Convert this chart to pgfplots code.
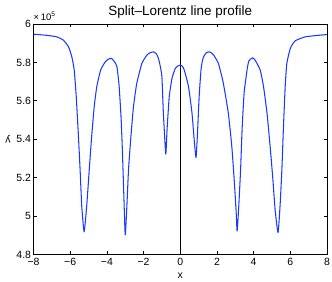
\documentclass[border=0pt]{standalone}
\usepackage{fontspec}
\setmainfont{Liberation Sans}
\usepackage{pgfplots}
\pgfplotsset{compat=1.18}
\definecolor{lineblue}{RGB}{25,55,255}
\begin{document}
\begin{tikzpicture}
\begin{axis}[
  scale only axis,
  width=293.5bp, height=230.5bp,
  at={(0,0)}, anchor=south west,
  xmin=-8, xmax=8, ymin=4.8, ymax=6,
  xtick={-8,-6,-4,-2,0,2,4,6,8},
  xticklabels={−8,−6,−4,−2,0,2,4,6,8},
  ytick={4.8,5,5.2,5.4,5.6,5.8,6},
  yticklabels={4.8,5,5.2,5.4,5.6,5.8,6},
  tick align=inside,
  major tick length=3.5bp,
  axis line style={line width=0.9pt},
  every tick/.style={black, line width=0.7pt},
  tick label style={font=\fontsize{10.5}{12}\selectfont},
  xticklabel style={yshift=0bp},
  yticklabel style={xshift=1bp},
  xlabel={x}, ylabel={y},
  label style={font=\fontsize{10.5}{12}\selectfont},
  xlabel style={at={(axis description cs:0.5,-0.0933)}, anchor=center},
  ylabel style={at={(axis description cs:-0.0869,0.5)}, anchor=center, rotate=90},
  every axis title shift=0pt,
  title={Split–Lorentz line profile},
  title style={font=\fontsize{13.5}{15}\selectfont, at={(axis description cs:0.5,1.0512)}, anchor=center},
  clip=false,
]
\addplot[black, line width=1.1pt, forget plot] coordinates {(0,4.8) (0,6)};
\addplot[lineblue, line width=1.05pt, line join=round, smooth, tension=0.3] coordinates {
(-8,5.947) (-7.27,5.941) (-6.73,5.933) (-6.37,5.916) (-6.09,5.881)
(-5.91,5.829) (-5.78,5.76) (-5.67,5.622) (-5.55,5.414) (-5.46,5.242)
(-5.37,5.052) (-5.24,4.918) (-5.1,5.052) (-4.96,5.242) (-4.83,5.414)
(-4.69,5.57) (-4.55,5.674) (-4.34,5.76) (-4.09,5.803) (-3.91,5.817) (-3.75,5.821)
(-3.58,5.803) (-3.45,5.777) (-3.33,5.674) (-3.22,5.501) (-3.15,5.328) (-3.08,5.121)
(-3.0,4.902) (-2.91,5.052) (-2.82,5.242) (-2.69,5.414) (-2.55,5.57)
(-2.37,5.691) (-2.09,5.795) (-1.82,5.838) (-1.65,5.850) (-1.47,5.855) (-1.3,5.845) (-1.19,5.821)
(-1.1,5.785) (-1.0,5.725) (-0.92,5.536) (-0.79,5.323) (-0.72,5.449) (-0.6,5.622)
(-0.45,5.717) (-0.27,5.769) (-0.12,5.782) (0,5.786) (0.1,5.782) (0.22,5.76) (0.45,5.674)
(0.64,5.536) (0.76,5.397) (0.86,5.305) (0.94,5.432) (1.03,5.622)
(1.13,5.76) (1.2,5.805) (1.27,5.829) (1.4,5.848) (1.55,5.855) (1.7,5.850) (1.82,5.838) (2.08,5.795)
(2.35,5.691) (2.62,5.536) (2.81,5.363) (2.94,5.19) (3.05,5.017)
(3.1,4.922) (3.19,5.052) (3.29,5.242) (3.37,5.449) (3.48,5.639)
(3.64,5.76) (3.73,5.806) (3.82,5.816) (3.95,5.824) (4.08,5.812) (4.36,5.76)
(4.54,5.674) (4.73,5.536) (4.9,5.363) (5.05,5.19) (5.17,5.034)
(5.33,4.914) (5.44,5.052) (5.54,5.242) (5.62,5.449) (5.72,5.674)
(5.81,5.795) (6.0,5.873) (6.26,5.912) (6.81,5.933) (7.53,5.941)
(8,5.945)
};
\node[anchor=south west, inner sep=0pt, font=\fontsize{9.5}{10}\selectfont] at (rel axis cs:0,1) [yshift=3bp] {×\,10\textsuperscript{5}};
\end{axis}
\pgfresetboundingbox
\useasboundingbox (-33.5bp,-27.5bp) rectangle (298.5bp,254.5bp);
\end{tikzpicture}
\end{document}
